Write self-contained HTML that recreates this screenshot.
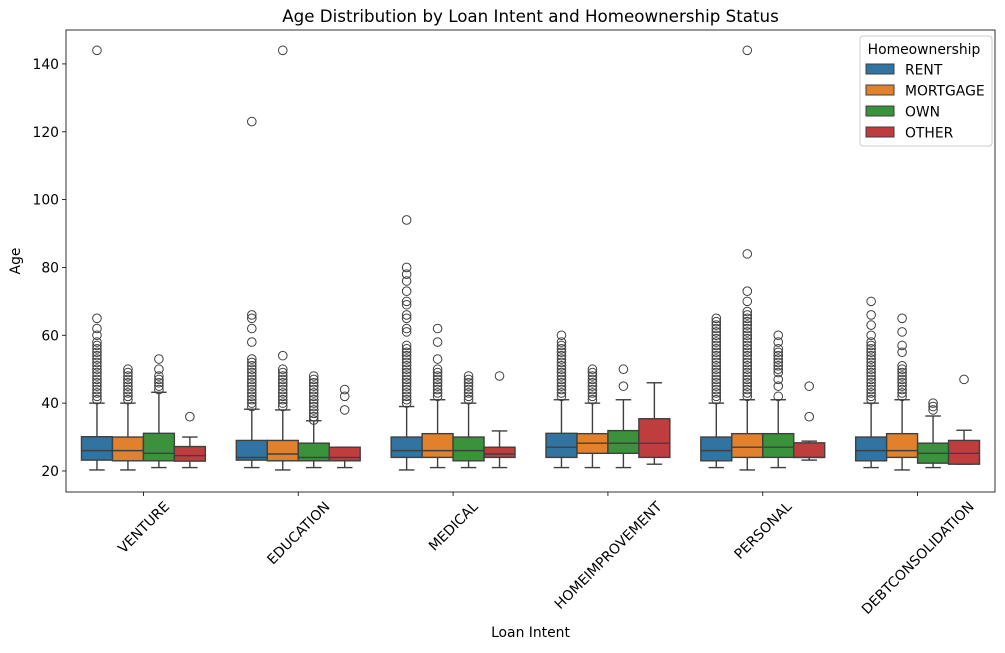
<!DOCTYPE html>
<html><head><meta charset="utf-8"><style>
body{margin:0;background:#fff;font-family:"Liberation Sans","DejaVu Sans",sans-serif}
svg text{font-family:"DejaVu Sans","Liberation Sans",sans-serif}
</style></head><body>
<svg id="c" width="1005" height="648" xmlns="http://www.w3.org/2000/svg"></svg>
<script>
const categories=["VENTURE","EDUCATION","MEDICAL","HOMEIMPROVEMENT","PERSONAL","DEBTCONSOLIDATION"];
const hues=["RENT","MORTGAGE","OWN","OTHER"];
const yTicks=[20,40,60,80,100,120,140];
// [whiskerLow, q1, median, q3, whiskerHigh] per category, per hue
const stats=[
 [[20.3,23.2,26,30.1,40],[20.3,23,26,30,40],[21,23,25.2,31.1,43.2],[21,22.9,24.5,27.2,30]],
 [[21,23.2,24,29,38.2],[20.3,23,25,29,38],[21,23,24,28.2,34.8],[21,23,24,27,27]],
 [[20.3,24,26,30,39],[21,24,26,31,41],[21,23,26,30,40],[21,24,25,27,31.8]],
 [[21,24,27,31.1,41],[21,25.2,28.2,31,40],[21,25.2,28.2,31.9,41],[22,24,28.2,35.4,46]],
 [[21,23,26,30,40],[20.3,24,27,31,41],[21,24,27,31,41],[23.2,24,24,28.3,28.8]],
 [[21,23,26,30,40],[20.3,24,26,31,41],[21,22.3,25.2,28.2,36.2],[22,22,25.2,29,32]]
];
function rng(a,b){const r=[];for(let i=a;i<=b;i++)r.push(i);return r;}
const outliers=[
 [rng(41,58).concat([60,62,65,144]),rng(41,50),[44,45,46,47,48,50,53],[36]],
 [rng(39,53).concat([58,62,65,66,123]),rng(39,50).concat([54,144]),rng(35,48),[38,42,44]],
 [rng(40,57).concat([61,62,65,66,69,70,73,76,78,80,94]),rng(42,50).concat([53,58,62]),rng(41,48),[48]],
 [rng(42,58).concat([60]),rng(41,50),[45,50],[]],
 [rng(41,65),rng(42,67).concat([70,73,84,144]),[42,45,47,49,50,51,52,53,54,55,56,58,60],[36,45]],
 [rng(41,58).concat([60,63,66,70]),rng(42,51).concat([55,57,61,65]),[38,39,40],[47]]
];
const colors=["#3274a1","#e1812c","#3a923a","#c03d3e"];
const L=66,R=995,T=30,B=492,ymin=13.8,ymax=150;
const FS=13.9;
const y=v=>B-(v-ymin)/(ymax-ymin)*(B-T);
const gw=(R-L)/categories.length;
const xc=i=>L+gw*(i+0.5);
const bw=gw*0.8/hues.length;
const svg=document.getElementById('c');
const NS="http://www.w3.org/2000/svg";
function el(tag,attrs,parent){const e=document.createElementNS(NS,tag);for(const k in attrs)e.setAttribute(k,attrs[k]);(parent||svg).appendChild(e);return e;}
const title=el('text',{x:(L+R)/2,y:22,'text-anchor':'middle','font-size':16.7});title.textContent="Age Distribution by Loan Intent and Homeownership Status";


yTicks.forEach(v=>{
 el('line',{x1:L-4,x2:L,y1:y(v),y2:y(v),stroke:'#000','stroke-width':0.8});
 const t=el('text',{x:L-7,y:y(v)+5,'text-anchor':'end','font-size':FS});t.textContent=v;
 
 
});
const yt=el('text',{x:20,y:(T+B)/2,'text-anchor':'middle','font-size':FS,transform:`rotate(-90 20 ${(T+B)/2})`});yt.textContent="Age";


const xt=el('text',{x:(L+R)/2,y:637,'text-anchor':'middle','font-size':FS});xt.textContent="Loan Intent";


categories.forEach((c,i)=>{
 const x=xc(i);
 el('line',{x1:x,x2:x,y1:B,y2:B+4,stroke:'#000','stroke-width':0.8});
 const t=el('text',{x:x,y:0,'text-anchor':'middle','font-size':FS});t.textContent=c;
 
 
 const len=t.getComputedTextLength();
 const cy=B+7+(len*0.707+FS*0.707)/2;
 t.setAttribute('y',cy+5);
 t.setAttribute('transform',`rotate(-45 ${x} ${cy})`);
 hues.forEach((h,j)=>{
  const s=stats[i][j];const x0=x-gw*0.4+bw*j, cx=x0+bw/2;
  const g=el('g',{});
  
  
  const st={stroke:'#3f3f3f','stroke-width':1.4,fill:'none'};
  el('line',Object.assign({x1:cx,x2:cx,y1:y(s[0]),y2:y(s[1])},st),g);
  el('line',Object.assign({x1:cx,x2:cx,y1:y(s[3]),y2:y(s[4])},st),g);
  el('line',Object.assign({x1:cx-bw/4,x2:cx+bw/4,y1:y(s[0]),y2:y(s[0])},st),g);
  el('line',Object.assign({x1:cx-bw/4,x2:cx+bw/4,y1:y(s[4]),y2:y(s[4])},st),g);
  el('rect',{x:x0,y:y(s[3]),width:bw,height:y(s[1])-y(s[3]),fill:colors[j],stroke:'#3f3f3f','stroke-width':1.4},g);
  el('line',Object.assign({x1:x0,x2:x0+bw,y1:y(s[2]),y2:y(s[2])},st),g);
  outliers[i][j].forEach(v=>el('circle',{cx:cx,cy:y(v),r:4.3,fill:'none',stroke:'#3f3f3f','stroke-width':1},g));
 });
});
const frame=el('rect',{x:L,y:T,width:R-L,height:B-T,fill:'none',stroke:'#000','stroke-width':0.8});


const lg=el('g',{});


el('rect',{x:860,y:36,width:132,height:110,rx:3,fill:'#fff',stroke:'#ccc','stroke-width':1},lg);
const lt=el('text',{x:924,y:54,'text-anchor':'middle','font-size':FS},lg);lt.textContent="Homeownership";
hues.forEach((h,j)=>{
 const yy=64+j*21;
 const e=el('g',{},lg);
 
 
 el('rect',{x:866,y:yy,width:28,height:10,fill:colors[j],stroke:'#3f3f3f','stroke-width':1},e);
 const t=el('text',{x:905,y:yy+10.5,'font-size':FS},e);t.textContent=h;
});
</script>
</body></html>
